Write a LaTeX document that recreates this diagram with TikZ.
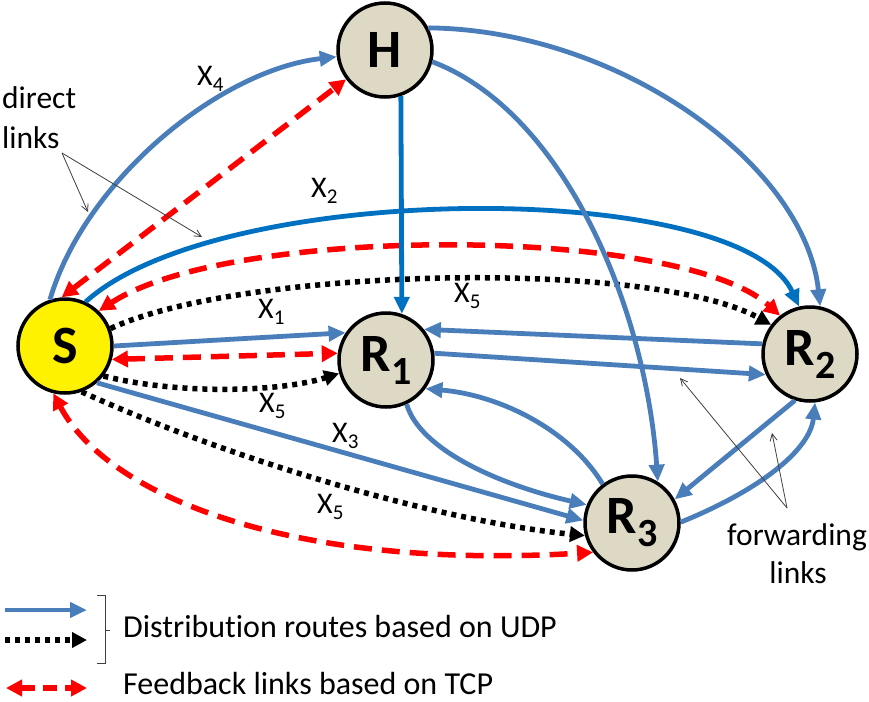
\documentclass[tikz,border=0pt]{standalone}
\usepackage{fontspec}
\setmainfont{Carlito}[Ligatures=NoCommon]
\usetikzlibrary{arrows.meta}
\definecolor{lblue}{HTML}{4A7EBB}
\definecolor{dblue}{HTML}{0070C0}
\definecolor{nodefill}{HTML}{DDD9C4}
\definecolor{annot}{HTML}{404040}
\newcommand{\Xl}[1]{X\raisebox{-6pt}{\fontsize{21}{21}\selectfont #1}}
\newcommand{\Rl}[1]{R\raisebox{-13pt}{\fontsize{40}{40}\selectfont #1}}
\begin{document}
\begin{tikzpicture}[x=1pt,y=-1pt,
  netnode/.style={circle,draw=black,line width=3.5pt,minimum size=94pt,inner sep=0pt,fill=nodefill,font=\fontsize{54}{54}\selectfont\bfseries},
  bluetip/.style={-{Triangle[length=17pt,width=15pt]}},
  lb/.style={draw=lblue,line width=4.8pt,bluetip},
  db/.style={draw=dblue,line width=4.8pt,bluetip},
  fb/.style={draw=red,line width=5.5pt,dash pattern=on 18pt off 10pt,{Triangle[length=16pt,width=16pt]}-{Triangle[length=16pt,width=16pt]}},
  dt/.style={draw=black,line width=5.5pt,dash pattern=on 5pt off 5pt,-{Triangle[length=15pt,width=15pt]}},
  xlab/.style={anchor=base west,inner sep=0pt,font=\fontsize{30}{32}\selectfont},
  txt/.style={inner sep=0pt,font=\fontsize{31.5}{33}\selectfont},
  ann/.style={draw=annot,line width=0.8pt,-{Straight Barb[length=7pt,width=7pt]}}
]
\useasboundingbox[fill=white] (0,0) rectangle (869,701);

% nodes
\node[netnode,fill=yellow] (S) at (65,346) {S};
\node[netnode] (H) at (385,50) {H};
\node[netnode] (R1) at (386,360) {\Rl{1}};
\node[netnode] (R2) at (810,354) {\Rl{2}};
\node[netnode] (R3) at (632,523) {\Rl{3}};

% links from S
\draw[lb] (S.108) .. controls (85,180) and (220,70) .. (H.188);
\draw[fb] (S.94) -- (H.217);
\draw[db] (S.65) .. controls (220,180) and (740,178) .. (R2.103);
\draw[fb] (S.46) .. controls (230,225) and (680,225) .. (R2.128);
\draw[dt] (S.21) .. controls (240,268) and (650,258) .. (R2.143);
\draw[lb] (S.0) -- (R1.146);
\draw[fb] (S.-16) -- (R1.172);
\draw[dt] (S.-38) .. controls (180,395) and (280,392) .. (R1.196);
\draw[lb] (S.-49) -- (R3.177);
\draw[dt] (S.-70) .. controls (220,455) and (430,520) .. (R3.195);
\draw[fb] (S.-104) .. controls (110,500) and (300,570) .. (R3.217);

% forwarding links
\draw[db] (H.-71) -- (R1.71);
\draw[lb] (H.27) .. controls (620,30) and (805,165) .. (R2.78);
\draw[lb] (H.-14) .. controls (560,110) and (645,300) .. (R3.58);
\draw[lb] (R2.168) -- (R1.39);
\draw[lb] (R1.8.6) -- (R2.205);
\draw[lb] (R3.127) .. controls (570,430) and (500,395) .. (R1.-36);
\draw[lb] (R1.-65) .. controls (420,450) and (500,485) .. (R3.158);
\draw[lb] (R2.-108) -- (R3.29);
\draw[lb] (R3.1) .. controls (760,490) and (810,450) .. (R2.-84);

% labels
\node[xlab] (x4) at (197,85) {\Xl{4}};
\node[xlab] (x2) at (311,197) {\Xl{2}};
\node[xlab] (x1) at (258,318) {\Xl{1}};
\node[xlab] (x5a) at (454,302) {\Xl{5}};
\node[xlab] (x5b) at (259,412) {\Xl{5}};
\node[xlab] (x3) at (332,442) {\Xl{3}};
\node[xlab] (x5c) at (317,513) {\Xl{5}};

% annotations
\node[txt,anchor=base west] (direct) at (2,108) {direct};
\node[txt,anchor=base west] (dlinks) at (2,148) {links};
\coordinate (dl) at (62,153);
\coordinate (dl1) at (88,212);
\coordinate (dl2) at (202,237);
\draw[ann] (dl) -- (dl1);
\draw[ann] (dl) -- (dl2);

\node[txt,anchor=base] (fwd) at (797,545) {forwarding};
\node[txt,anchor=base] (flinks) at (798,583) {links};
\coordinate (fl) at (787,508);
\coordinate (fl1) at (680,378);
\coordinate (fl2) at (772,433);
\draw[ann] (fl) -- (fl1);
\draw[ann] (fl) -- (fl2);

% legend
\coordinate (l1a) at (5,610); \coordinate (l1b) at (87,610);
\coordinate (l2a) at (5,640); \coordinate (l2b) at (87,640);
\coordinate (l3a) at (6,688); \coordinate (l3b) at (87,688);
\draw[lb] (l1a) -- (l1b);
\draw[dt] (l2a) -- (l2b);
\draw[fb,dash pattern=on 14pt off 8pt] (l3a) -- (l3b);
\coordinate (bt) at (97,595); \coordinate (bb) at (97,663);
\coordinate (bm) at (110,630);
\draw[annot,line width=0.9pt] (bt) -- ++(8,0) |- (bb);
\draw[annot,line width=0.9pt] (105,630) -- (bm);
\node[txt,anchor=base west,font=\fontsize{32}{34}\selectfont] (leg1) at (123,637) {Distribution routes based on UDP};
\node[txt,anchor=base west,font=\fontsize{32}{34}\selectfont] (leg2) at (123,694) {Feedback links based on TCP};
\end{tikzpicture}
\end{document}
